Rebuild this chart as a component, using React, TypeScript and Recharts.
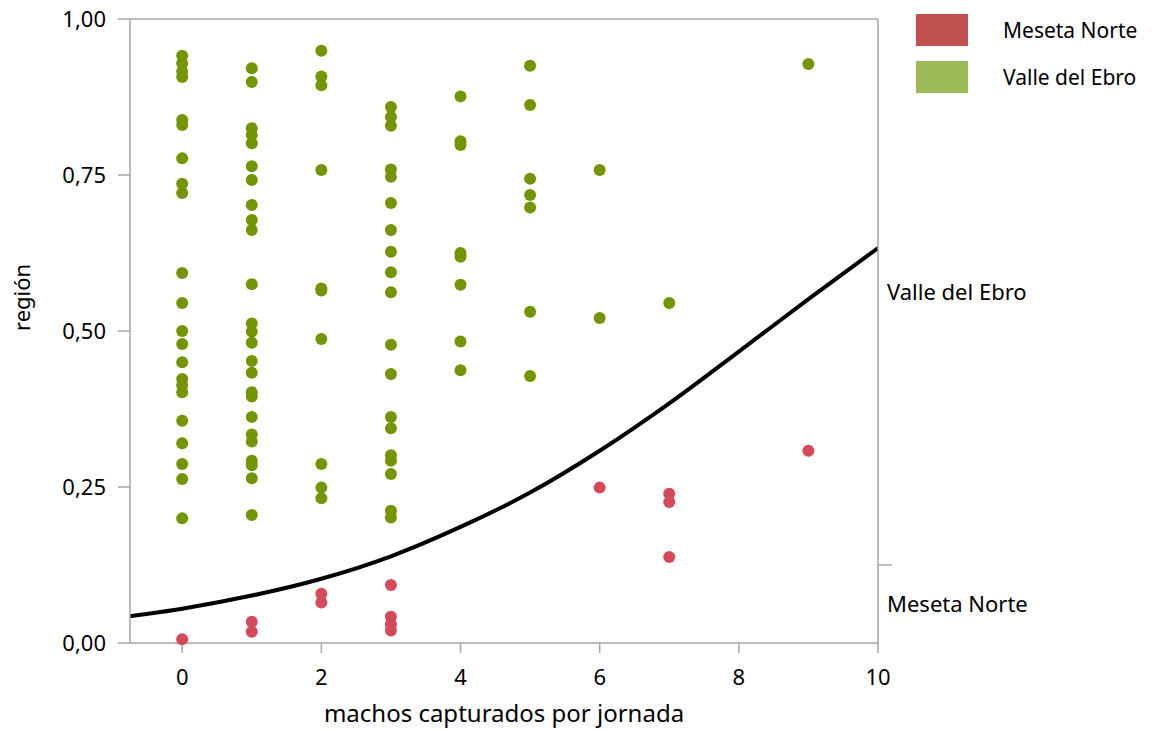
import React from 'react';
import {
  ComposedChart, Scatter, Line, XAxis, YAxis, ReferenceLine,
} from 'recharts';

// share of Valle del Ebro per count of males caught
const valleX0 = [0.941, 0.929, 0.916, 0.907, 0.838, 0.830, 0.777, 0.736, 0.721, 0.593, 0.545, 0.500, 0.479, 0.450, 0.423, 0.413, 0.402, 0.356, 0.320, 0.287, 0.263, 0.200];
const valleX1 = [0.921, 0.899, 0.825, 0.814, 0.801, 0.764, 0.742, 0.702, 0.678, 0.662, 0.575, 0.512, 0.499, 0.481, 0.452, 0.433, 0.402, 0.395, 0.362, 0.334, 0.323, 0.292, 0.285, 0.264, 0.205];
const valleX2 = [0.949, 0.908, 0.894, 0.758, 0.568, 0.565, 0.487, 0.287, 0.249, 0.232];
const valleX3 = [0.859, 0.843, 0.829, 0.759, 0.747, 0.705, 0.662, 0.627, 0.594, 0.562, 0.478, 0.431, 0.362, 0.344, 0.301, 0.292, 0.271, 0.212, 0.201];
const valleX4 = [0.876, 0.804, 0.798, 0.625, 0.619, 0.574, 0.483, 0.437];
const valleX5 = [0.925, 0.862, 0.744, 0.718, 0.698, 0.531, 0.428];
const valleX6 = [0.758, 0.521];
const valleX7 = [0.545];
const valleX9 = [0.928];

const mesetaX0 = [0.006];
const mesetaX1 = [0.034, 0.018];
const mesetaX2 = [0.079, 0.065];
const mesetaX3 = [0.093, 0.042, 0.030, 0.020];
const mesetaX6 = [0.249];
const mesetaX7 = [0.239, 0.226, 0.138];
const mesetaX9 = [0.308];

// fitted curve, read at these x positions
const curveX = [-0.75, 0, 1, 2, 3, 4, 5, 6, 7, 8, 9, 10];
const curveY = [0.043, 0.055, 0.076, 0.103, 0.139, 0.186, 0.241, 0.308, 0.384, 0.467, 0.551, 0.633];

const xTicks = [0, 2, 4, 6, 8, 10];
const yTicks = [0, 0.25, 0.5, 0.75, 1];
const regionLabels = [
  { value: 0.0625, label: 'Meseta Norte' },
  { value: 0.5625, label: 'Valle del Ebro' },
];
const regionSplit = 0.125;

const legendItems = [
  { name: 'Meseta Norte', color: '#C0504D' },
  { name: 'Valle del Ebro', color: '#9BBB59' },
];

const FONT = '"Noto Sans", sans-serif';
const AXIS = '#a6a6a6';
const GREEN = '#739500';
const RED = '#D44A5A';

const toPoints = (cols: [number, number[]][]) =>
  cols.flatMap(([x, ys]) => ys.map((y) => ({ x, y })));

const valleData = toPoints([[0, valleX0], [1, valleX1], [2, valleX2], [3, valleX3], [4, valleX4], [5, valleX5], [6, valleX6], [7, valleX7], [9, valleX9]]);
const mesetaData = toPoints([[0, mesetaX0], [1, mesetaX1], [2, mesetaX2], [3, mesetaX3], [6, mesetaX6], [7, mesetaX7], [9, mesetaX9]]);
const curveData = curveX.map((x, i) => ({ x, y: curveY[i] }));

const RightTick = (props: any) => {
  const { x, y, payload } = props;
  if (payload.value === regionSplit) {
    return <line x1={x - 8} y1={y} x2={x + 6} y2={y} stroke={AXIS} strokeWidth={1.5} />;
  }
  const item = regionLabels.find((r) => r.value === payload.value);
  return (
    <text x={x + 1} y={y} dy="0.35em" fontSize={22} fontFamily={FONT} fill="#000">
      {item ? item.label : ''}
    </text>
  );
};

const LegendBox = () => (
  <div style={{ position: 'absolute', left: 916, top: 6, fontFamily: FONT, fontSize: 21 }}>
    {legendItems.map((it) => (
      <div key={it.name} style={{ display: 'flex', alignItems: 'center', height: 47 }}>
        <div style={{ width: 52, height: 32, background: it.color }} />
        <span style={{ marginLeft: 35, color: '#000' }}>{it.name}</span>
      </div>
    ))}
  </div>
);

export default function App() {
  return (
    <div style={{ position: 'absolute', left: 0, top: 0, width: 1174, height: 731, background: '#fff' }}>
      <ComposedChart
        width={1174}
        height={731}
        margin={{ top: 19, right: 96, left: 0, bottom: 4 }}
      >
        <XAxis
          dataKey="x"
          type="number"
          domain={[-0.75, 10]}
          ticks={xTicks}
          allowDataOverflow
          height={84}
          stroke={AXIS}
          strokeWidth={1.5}
          tickSize={10}
          tickMargin={16}
          tick={{ fill: '#000', fontSize: 22, fontFamily: FONT }}
          label={{ value: 'machos capturados por jornada', position: 'insideBottom', offset: 5, fill: '#000', fontSize: 24, fontFamily: FONT }}
        />
        <YAxis
          yAxisId="left"
          dataKey="y"
          type="number"
          domain={[0, 1]}
          ticks={yTicks}
          width={130}
          stroke={AXIS}
          strokeWidth={1.5}
          tickSize={12}
          tickMargin={12}
          tickFormatter={(v: number) => v.toFixed(2).replace('.', ',')}
          tick={{ fill: '#000', fontSize: 22, fontFamily: FONT }}
          label={{ value: 'región', angle: -90, position: 'insideLeft', offset: 22, fill: '#000', fontSize: 22, fontFamily: FONT }}
        />
        <YAxis
          yAxisId="right"
          orientation="right"
          type="number"
          domain={[0, 1]}
          ticks={[regionLabels[0].value, regionSplit, regionLabels[1].value]}
          width={200}
          stroke={AXIS}
          strokeWidth={1.5}
          tickLine={false}
          tick={<RightTick />}
        />
        <ReferenceLine yAxisId="left" y={1} stroke={AXIS} strokeWidth={1.5} />
        <Scatter yAxisId="left" data={valleData} fill={GREEN} isAnimationActive={false}
          shape={(p: any) => <circle cx={p.cx} cy={p.cy} r={6} fill={GREEN} />} />
        <Scatter yAxisId="left" data={mesetaData} fill={RED} isAnimationActive={false}
          shape={(p: any) => <circle cx={p.cx} cy={p.cy} r={6} fill={RED} />} />
        <Line yAxisId="right" data={curveData} dataKey="y" type="monotone" stroke="#000"
          strokeWidth={4} dot={false} activeDot={false} isAnimationActive={false} />
      </ComposedChart>
      <LegendBox />
    </div>
  );
}
